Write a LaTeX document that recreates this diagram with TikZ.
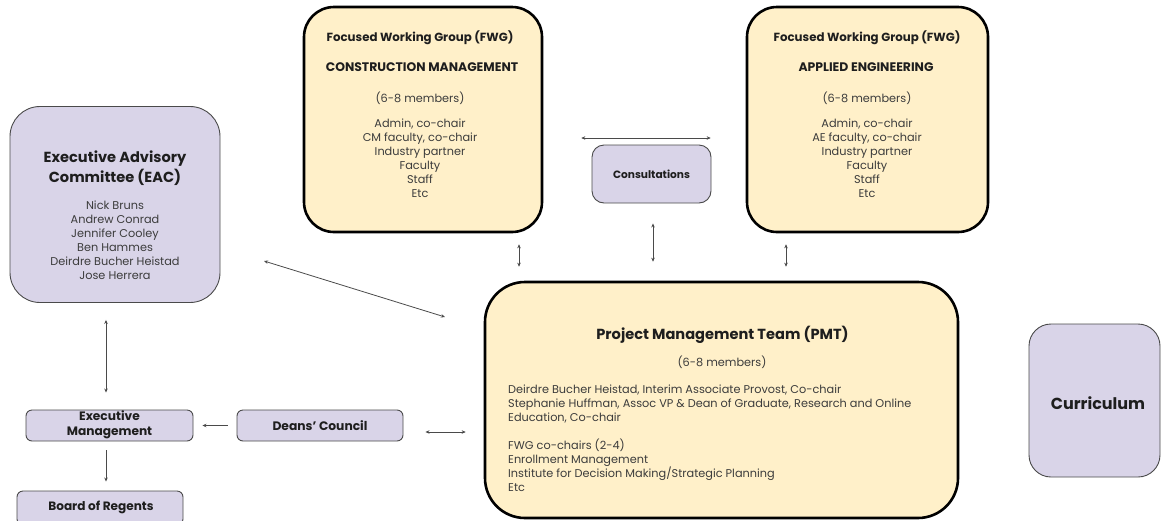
\documentclass[tikz,border=0pt]{standalone}
\usepackage{fontspec}
\setmainfont{Poppins}
\usetikzlibrary{arrows.meta}
\definecolor{lav}{HTML}{D9D4E8}
\definecolor{sand}{HTML}{FFF0C9}
\definecolor{ink}{HTML}{1E1E1E}
\definecolor{body}{HTML}{3C3C3C}
\definecolor{edge}{HTML}{4A4A4A}

\begin{document}
\begin{tikzpicture}[x=1pt,y=-1pt,
  lavbox/.style={draw=edge, line width=0.9pt, fill=lav, inner sep=0},
  sandbox/.style={draw=black, line width=2.6pt, fill=sand, inner sep=0},
  head/.style={font=\bfseries\fontsize{11.8}{14}\selectfont, text=ink, align=center, inner sep=0},
  caps/.style={font=\bfseries\fontsize{12.4}{14}\selectfont, text=ink, align=center, inner sep=0},
  bighead/.style={font=\bfseries\fontsize{14.6}{20}\selectfont, text=ink, align=center, inner sep=0},
  txt/.style={font=\fontsize{11.3}{14}\selectfont, text=body, align=center, inner sep=0},
  tip/.tip={Stealth[length=4pt,width=3.5pt]},
  link/.style={draw=edge, line width=0.8pt, tip-tip},
  onelink/.style={draw=edge, line width=0.8pt, -tip},
]
\useasboundingbox (0,0) rectangle (1162,520);

% ---- boxes ----
\node[lavbox, rounded corners=30, minimum width=210, minimum height=196] (eac) at (115,204.5) {};
\node[sandbox, rounded corners=30, minimum width=238, minimum height=225] (cm) at (423,119.5) {};
\node[sandbox, rounded corners=30, minimum width=241, minimum height=225] (ae) at (867.5,119.5) {};
\node[lavbox, rounded corners=12, minimum width=119, minimum height=58] (cons) at (651.5,174) {};
\node[sandbox, rounded corners=40, minimum width=473, minimum height=236] (pmt) at (721.5,400) {};
\node[lavbox, rounded corners=22, minimum width=131, minimum height=153] (cur) at (1094.5,400.5) {};
\node[lavbox, rounded corners=6, minimum width=167, minimum height=31] (em) at (109.5,425.5) {};
\node[lavbox, rounded corners=6, minimum width=166, minimum height=31] (dc) at (320,425.5) {};
\node[lavbox, rounded corners=6, minimum width=166, minimum height=34] (bor) at (100,508) {};

% ---- texts ----
\node[bighead, anchor=north] (eacT) at (115,151) {Executive Advisory\\Committee (EAC)};
\node[txt, anchor=north] (eacL) at (115,201) {Nick Bruns\\Andrew Conrad\\Jennifer Cooley\\Ben Hammes\\Deirdre Bucher Heistad\\Jose Herrera};

\node[head, anchor=north] (cmT) at (420,31) {Focused Working Group (FWG)};
\node[caps, anchor=north] (cmS) at (422,62) {CONSTRUCTION MANAGEMENT};
\node[txt, anchor=north] (cmN) at (420,92) {(6-8 members)};
\node[txt, anchor=north] (cmL) at (420,119) {Admin, co-chair\\CM faculty, co-chair\\Industry partner\\Faculty\\Staff\\Etc};

\node[head, anchor=north] (aeT) at (867,31) {Focused Working Group (FWG)};
\node[caps, anchor=north] (aeS) at (866,62) {APPLIED ENGINEERING};
\node[txt, anchor=north] (aeN) at (867,92) {(6-8 members)};
\node[txt, anchor=north] (aeL) at (867,119) {Admin, co-chair\\AE faculty, co-chair\\Industry partner\\Faculty\\Staff\\Etc};

\node[head, font=\bfseries\fontsize{10.6}{14}\selectfont] (consT) at (cons) {Consultations};

\node[bighead, anchor=north] (pmtT) at (722.5,326) {Project Management Team (PMT)};
\node[txt, anchor=north] (pmtN) at (722,356) {(6-8 members)};
\node[txt, align=left, anchor=north west] (pmtL) at (508,385) {Deirdre Bucher Heistad, Interim Associate Provost, Co-chair\\
Stephanie Huffman, Assoc VP \& Dean of Graduate, Research and Online\\
Education, Co-chair\\[14pt]
FWG co-chairs (2-4)\\
Enrollment Management\\
Institute for Decision Making/Strategic Planning\\
Etc};

\node[font=\bfseries\fontsize{16}{20}\selectfont, text=ink, inner sep=0] (curT) at (1098,403) {Curriculum};
\node[head, font=\bfseries\fontsize{12.2}{15}\selectfont] (emT) at ([yshift=1]em.center) {Executive\\Management};
\node[head, font=\bfseries\fontsize{12.3}{14}\selectfont] (dcT) at (dc) {Deans' Council};
\node[head, font=\bfseries\fontsize{12.1}{14}\selectfont] (borT) at (101,507) {Board of Regents};

% ---- connectors ----
\coordinate (xcm) at (519,0);
\coordinate (xcons) at (653,0);
\coordinate (xae) at (786,0);
\coordinate (xeac) at (106,0);
\coordinate (yfwg) at (0,138);
\coordinate (ydc) at (0,432);
\coordinate (d1) at (264,261);
\coordinate (d2) at (445,317);

\draw[link, shorten <=38pt, shorten >=35pt] (cm.east |- yfwg) -- (ae.west |- yfwg);
\draw[link, shorten <=11pt, shorten >=14pt] (cm.south -| xcm) -- (pmt.north -| xcm);
\draw[link, shorten <=20pt, shorten >=19pt] (cons.south -| xcons) -- (pmt.north -| xcons);
\draw[link, shorten <=11pt, shorten >=14pt] (ae.south -| xae) -- (pmt.north -| xae);
\draw[link] (d1) -- (d2);
\draw[link, shorten <=17pt, shorten >=17pt] (eac.south -| xeac) -- (em.north -| xeac);
\draw[onelink, shorten <=9pt, shorten >=9pt] (dc.west) -- (em.east);
\draw[onelink, shorten <=9pt, shorten >=9pt] (em.south -| xeac) -- (bor.north -| xeac);
\draw[link, shorten <=22pt, shorten >=18pt] (dc.east |- ydc) -- (pmt.west |- ydc);
\end{tikzpicture}
\end{document}
